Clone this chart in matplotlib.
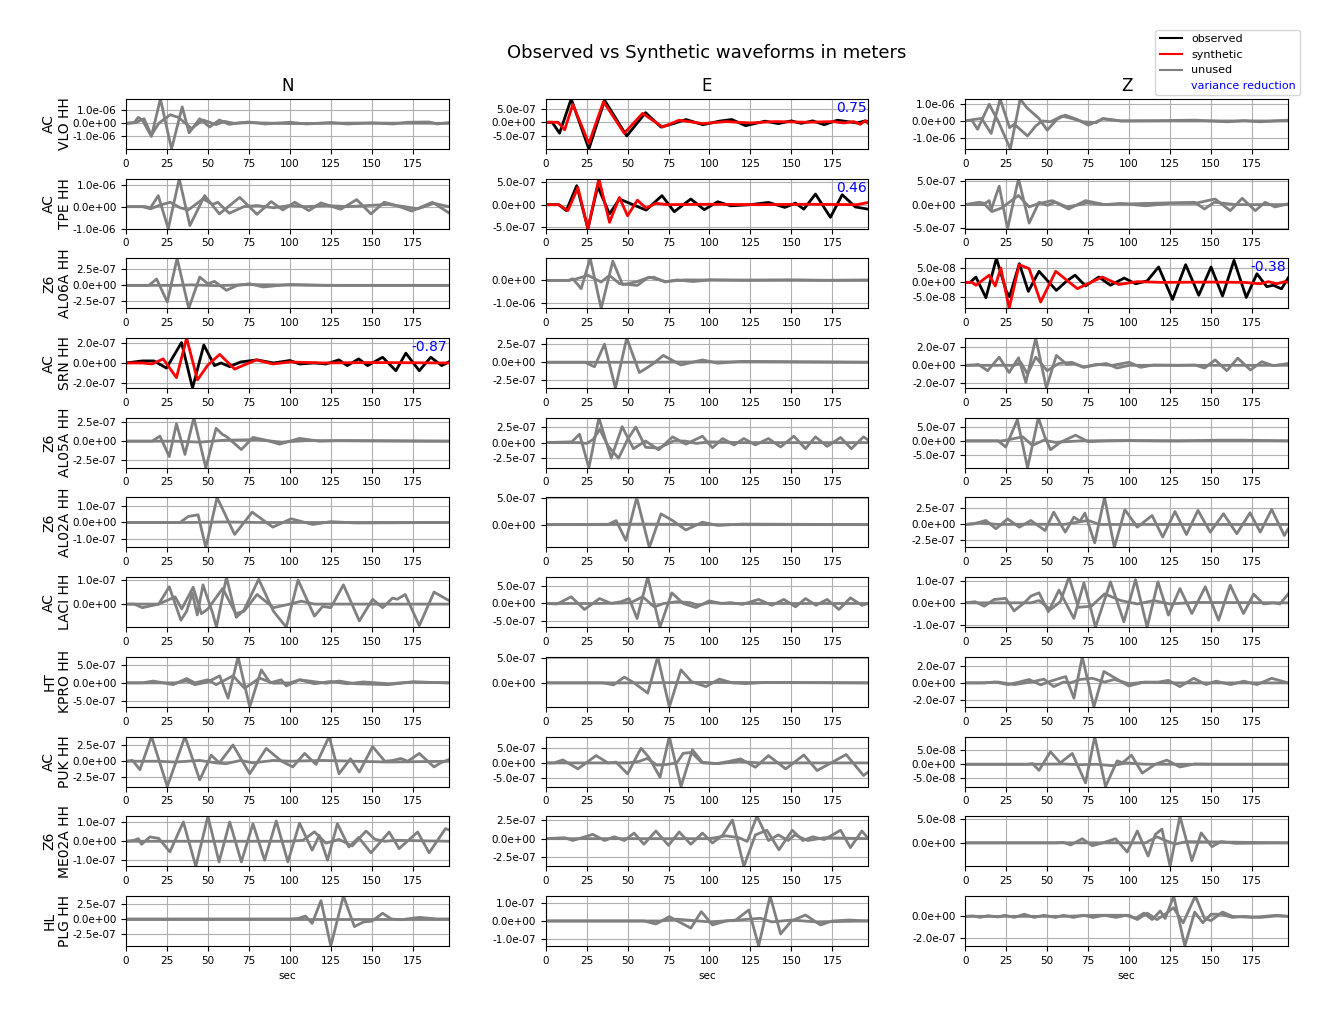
import matplotlib
matplotlib.use('Agg')
import matplotlib.pyplot as plt
from matplotlib.lines import Line2D
from matplotlib.ticker import MultipleLocator, FormatStrFormatter

NETWORKS = ['AC', 'AC', 'Z6', 'AC', 'Z6', 'Z6', 'AC', 'HT', 'AC', 'Z6', 'HL']
STATIONS = ['VLO', 'TPE', 'AL06A', 'SRN', 'AL05A', 'AL02A', 'LACI', 'KPRO', 'PUK', 'ME02A', 'PLG']
CHANNEL = 'HH'
COMPONENTS = ['N', 'E', 'Z']
# y tick step per panel (also the unit of the amplitude lists below)
YSTEP = [
    [1e-6, 5e-7, 1e-6],
    [1e-6, 5e-7, 5e-7],
    [2.5e-7, 1e-6, 5e-8],
    [2e-7, 2.5e-7, 2e-7],
    [2.5e-7, 2.5e-7, 5e-7],
    [1e-7, 5e-7, 2.5e-7],
    [1e-7, 5e-7, 1e-7],
    [5e-7, 5e-7, 2e-7],
    [2.5e-7, 5e-7, 5e-8],
    [1e-7, 2.5e-7, 5e-8],
    [2.5e-7, 1e-7, 2e-7],
]
VARIANCE_REDUCTION = {('VLO', 'E'): '0.75', ('TPE', 'E'): '0.46',
                      ('AL06A', 'Z'): '-0.38', ('SRN', 'N'): '-0.87'}
T_END = 197

# ---- traces: (time s, amplitude in units of YSTEP); A = observed, B = synthetic
VLO_N_A = [(0,0),(5,0.05),(7.5,0.45),(10,0.25),(15.5,-1.0),(21,1.85),(27.8,-1.95),(34.3,1.25),(38.5,-0.72),(45,0.35),(51,-0.28),(57,0.25),(63,-0.08),(70,0.05),(75,0.1),(85,-0.05),(100,0.08),(110,-0.05),(125,0.06),(135,-0.05),(150,0.03),(163,-0.05),(172,0.08),(185,0.1),(190,-0.05),(197,0.05)]
VLO_N_B = [(0,0),(6,0.05),(11,0.35),(15.5,-0.9),(20,0.0),(27,0.65),(32,0.45),(40,-0.4),(47,0.25),(55,-0.1),(60,0.15),(66,0.0),(75,0.05),(100,-0.02),(140,0.02),(197,0)]
VLO_E_A = [(0,0),(4,0.0),(8.5,-0.8),(15.6,1.7),(26.4,-1.95),(36,1.6),(49.5,-1.0),(61,0.7),(70.4,-0.35),(78,-0.1),(85.6,0.2),(96,-0.18),(106,0.08),(113.6,0.2),(122,-0.25),(134,0.08),(142,-0.1),(150,0.1),(156,-0.08),(163,0.1),(170,-0.18),(178,0.15),(184,0.05),(190,-0.05),(195,0.1),(197,0.05)]
VLO_E_B = [(0,0),(7.5,0.0),(11.6,-0.55),(16.6,1.3),(26.4,-1.55),(35.3,1.5),(48,-0.8),(59.2,0.65),(71.4,-0.35),(81.5,0.15),(96,-0.1),(110,0.05),(125,-0.05),(140,0.05),(160,0.0),(175,0.05),(182,-0.05),(188,0.05),(192,-0.15),(195,0.1),(197,-0.1)]
VLO_Z_A = [(0,0),(4,0.05),(7.5,-0.5),(14.6,1.0),(20,0.0),(27.5,-1.68),(33.5,1.32),(37.5,0.8),(45,0.15),(50,-0.55),(56,0.1),(61,0.35),(68,0.1),(75,-0.25),(84,0.12),(95,0.0),(120,0.02),(140,0.05),(160,-0.05),(170,0.02),(180,-0.05),(197,0.05)]
VLO_Z_B = [(0,0),(6,0.1),(10,0.15),(15.8,-0.75),(21.3,1.32),(27,-0.4),(30,-0.2),(38,-0.9),(43,-0.3),(47,0.0),(52,-0.05),(59,0.3),(65,0.15),(72,-0.05),(80,-0.1),(84,0.15),(95,0.0),(197,0)]

TPE_N_A = [(0,0),(12,0.0),(15,-0.05),(19.7,0.5),(25.8,-1.0),(32.5,1.27),(39,-0.86),(48,0.5),(57,-0.33),(69.4,0.42),(80,-0.35),(88.6,0.23),(95.7,-0.15),(103,0.2),(111.6,-0.18),(119,0.17),(131,-0.12),(140.8,0.32),(149.5,-0.33),(157.6,0.2),(165,0.05),(174.4,-0.2),(187,0.2),(197,-0.28)]
TPE_N_B = [(0,0),(10,0.0),(15,-0.1),(20,0.05),(27,0.2),(33,-0.05),(38,-0.15),(47,0.35),(53,0.1),(56,0.2),(63,-0.3),(72,0.0),(80,0.05),(90,-0.05),(100,0.05),(110,0.0),(122,0.05),(135,0.0),(160,0.1),(170,0.0),(178,-0.1),(188,0.15),(197,0.0)]
TPE_E_A = [(0,0),(8,0.0),(12.6,-0.26),(19,0.84),(25.8,-1.06),(31.8,0.81),(39,-0.41),(45,0.25),(50,0.1),(61.3,-0.24),(71,0.4),(78.5,-0.31),(88.6,0.25),(96.8,-0.22),(105,0.13),(113,-0.05),(125,0.0),(136,0.1),(146,-0.12),(152.5,0.07),(157.6,-0.2),(164.7,0.47),(173.8,-0.56),(181,0.44),(189,-0.1),(197,-0.2)]
TPE_E_B = [(0,0),(8,0.0),(13.6,-0.26),(19.7,0.76),(25.8,-1.06),(32.5,1.15),(39,-0.78),(45,0.32),(50,-0.49),(56,0.2),(61.3,-0.15),(67.3,0.06),(75,0.0),(100,0.02),(130,0.0),(160,0.02),(190,0.0),(197,0.1)]
TPE_Z_A = [(0,0),(12,0.0),(15.6,-0.26),(20.7,0.79),(25.8,-1.03),(32.5,1.11),(39,-0.79),(45,0.1),(50,-0.03),(55,0.1),(63,-0.19),(73.4,0.17),(85,0.0),(95,0.05),(110,-0.05),(125,0.05),(140,0.05),(152.5,0.24),(161.7,-0.26),(169,0.27),(177,-0.26),(183,0.1),(189,-0.1),(197,0.03)]
TPE_Z_B = [(0,0),(8.5,0.1),(12,0.05),(14.6,0.17),(16.2,-0.3),(22,-0.15),(32.5,0.39),(39,-0.1),(44,0.03),(53,0.17),(62,-0.1),(70,0.0),(74,0.07),(85,0.0),(110,0.05),(140,0.1),(146,-0.19),(152,0.1),(165,0.0),(197,0.0)]

AL06A_N_A = [(0,0),(14,0.0),(18.7,0.4),(25.2,-1.04),(31.2,1.69),(38.3,-1.44),(45,0.52),(50,0.1),(54,0.25),(61.3,-0.31),(68,0.0),(75.5,0.1),(83.6,-0.1),(100,0.06),(120,0.0),(197,0.0)]
AL06A_N_B = [(0,0),(30,0.0),(40,0.03),(55,-0.02),(75,0.05),(100,0.02),(130,0.0),(197,0.0)]
AL06A_E_A = [(0,0),(14,0.0),(16.6,0.07),(21.7,-0.36),(27.2,0.96),(33.9,-1.22),(41,0.84),(47,-0.19),(56,-0.05),(63.3,0.14),(73,-0.05),(85,0.02),(197,0)]
AL06A_E_B = [(0,0),(14,0.0),(18,0.05),(25.8,0.22),(33.9,-0.07),(39,0.22),(45,-0.14),(56,-0.22),(62,0.1),(66,0.14),(73,-0.07),(80,0.02),(90,-0.05),(100,0.02),(120,0.0),(150,0.02),(170,0.0),(197,0.02)]
AL06A_Z_A = [(0,0),(3,0.0),(6.5,0.37),(12.6,-1.07),(19,1.67),(25,-0.6),(27,-1.0),(33,1.3),(38.5,-0.63),(45,0.77),(55.6,-0.56),(62,0.1),(67,0.5),(73.4,-0.25),(81.5,0.37),(88.6,-0.2),(97,0.3),(104,-0.1),(111,0.1),(118,1.07),(126.5,-1.19),(134.5,1.23),(142.5,-0.9),(150,1.07),(157,-0.95),(164,1.53),(171.5,-1.05),(178,0.6),(184,-0.3),(188,-0.2),(193,-0.45),(197,0.3)]
AL06A_Z_B = [(0,0),(4,0.0),(6.5,-0.2),(14.6,0.5),(18.3,-0.25),(21.7,1.0),(26.8,-1.81),(32.9,1.23),(39,0.95),(46,-1.37),(55.2,0.77),(68.4,-0.44),(83.6,0.37),(93.7,-0.15),(105,0.05),(120,0.0),(150,0.02),(170,0.0),(180,-0.1),(185,0.05),(190,-0.1),(195,0.05),(197,0.0)]

SRN_N_A = [(0,0),(5,0.05),(10,0.1),(17,0.1),(24.7,-0.25),(33.9,1.0),(40.6,-1.23),(47.5,0.88),(54,-0.13),(58,0.0),(63.3,-0.18),(70,0.05),(80,0.15),(90,0.0),(100,0.12),(106,-0.05),(115,0.0),(122,-0.05),(130,0.15),(135,-0.13),(142,0.2),(147.5,-0.13),(156.6,0.28),(164.7,-0.38),(170.8,0.48),(179,-0.38),(186,0.28),(192.7,-0.13),(197,0.05)]
SRN_N_B = [(0,0),(10,0.0),(16,-0.05),(22.7,0.2),(30.8,-0.72),(37,1.22),(43.6,-0.83),(50,-0.1),(57.2,0.42),(66.3,-0.3),(79.5,0.15),(89.6,-0.05),(100,0.05),(120,0.0),(150,0.02),(197,0.0)]
SRN_E_A = [(0,0),(24,0.0),(29.8,-0.25),(35.9,1.0),(42.6,-1.43),(49.5,1.34),(57.2,-0.57),(62,-0.3),(65.3,-0.1),(71.8,0.38),(82.6,-0.15),(95.7,0.13),(105,-0.05),(120,0.05),(197,0.0)]
SRN_E_B = [(0,0),(50,0.0),(100,0.02),(197,0.0)]
SRN_Z_A = [(0,0),(5,0.02),(8,0.05),(13.6,-0.3),(20.7,0.45),(26.8,-0.4),(32.5,0.42),(37,-0.96),(43,1.51),(49.5,-1.26),(55.6,0.55),(62,0.05),(66,0.1),(72,-0.1),(80,0.05),(90,0.0),(100,0.17),(107,-0.11),(115,0.02),(130,0.0),(140,0.02),(146,-0.15),(152.5,0.3),(159.6,-0.3),(166.3,0.4),(174,-0.26),(181,0.2),(188,-0.02),(197,0.1)]
SRN_Z_B = [(0,0),(30,0.0),(34,0.15),(38,-0.49),(43,0.45),(50,-0.3),(57,0.1),(65,0.17),(72.4,-0.11),(80,0.02),(86,0.1),(92.7,-0.15),(100,0.0),(197,0.0)]

AL05A_N_A = [(0,0),(16,0.0),(20.7,0.27),(26.4,-0.82),(30.8,0.93),(36,-0.71),(41.4,1.25),(48.7,-1.42),(55,0.69),(59,0.35),(61,0.27),(70.4,-0.45),(77.5,0.2),(85.6,0.05),(93.7,-0.16),(105.9,0.15),(118,0.0),(130,0.03),(197,0.0)]
AL05A_N_B = [(0,0),(30,0.0),(45,-0.05),(60,0.05),(80,0.08),(95,-0.05),(110,0.03),(197,0.0)]
AL05A_E_A = [(0,0),(16,0.05),(20.7,0.54),(26.4,-1.61),(32.5,1.59),(40,-1.0),(46.7,1.02),(53.6,-0.39),(61,0.1),(69,-0.46),(77.5,0.37),(85.6,-0.1),(95.7,0.41),(101.8,-0.33),(108,0.26),(115,-0.15),(121,0.26),(128,-0.15),(136,0.26),(143.4,-0.28),(151.5,0.41),(158.6,-0.39),(164.7,0.37),(171.8,-0.24),(180,0.33),(186.6,-0.39),(194,0.37),(197,0.15)]
AL05A_E_B = [(0,0),(20,0.0),(25,-0.05),(29,0.2),(33,0.85),(38,-0.2),(44.5,-1.0),(50,0.2),(55,1.0),(61,-0.3),(69,-0.35),(78,0.1),(85,0.1),(92,-0.05),(100,0.05),(120,0.0),(197,0.0)]
AL05A_Z_A = [(0,0),(20,0.0),(24.7,-0.43),(31.8,1.48),(38,-1.88),(44.6,1.62),(48.5,0.3),(52,-0.62),(58,-0.1),(67.3,0.4),(75,-0.05),(85,0.0),(100,0.02),(120,0.0),(197,0.0)]
AL05A_Z_B = [(0,0),(22,0.0),(25,0.05),(35,0.29),(41,-0.31),(48,0.05),(55,-0.1),(62,-0.05),(70,0.0),(100,0.02),(130,0.0),(155,0.05),(170,0.05),(197,0.0)]

AL02A_N_A = [(0,0),(33,0.0),(38,0.36),(44,0.46),(48.7,-1.5),(55.6,1.5),(66.3,-0.72),(77,0.62),(89.6,-0.28),(100.8,0.22),(114,-0.12),(125,0.05),(140,-0.03),(197,0.0)]
AL02A_N_B = [(0,0),(40,0.0),(60,0.03),(80,0.0),(197,0.0)]
AL02A_E_A = [(0,0),(38,0.0),(43,0.15),(49,-0.59),(55.6,1.01),(63.3,-0.85),(70.4,0.4),(77.5,0.15),(85.6,-0.2),(95.7,0.09),(105,-0.03),(120,0.02),(197,0.0)]
AL02A_E_B = [(0,0),(60,0.02),(100,0.0),(197,0.0)]
AL02A_Z_A = [(0,0),(5,0.03),(12.6,0.25),(18.7,-0.27),(25.8,0.35),(33,-0.17),(40,0.25),(48.7,-0.38),(54,0.77),(61,-0.48),(66.3,0.46),(70,0.2),(73,0.71),(79,-1.15),(85,1.69),(91,-1.44),(97.4,0.92),(105,-0.17),(114,0.56),(120.5,-0.79),(128,0.81),(135,-0.63),(142,0.88),(149.5,-0.48),(157.6,0.67),(165.7,-0.58),(173.8,0.73),(180,-0.48),(187,0.94),(194.7,-0.69),(197,-0.3)]
AL02A_Z_B = [(0,0),(8.5,0.1),(20,0.0),(40,0.02),(60,0.0),(75,0.25),(82,0.0),(100,0.0),(197,0.0)]

LACI_N_A = [(0,0),(5,0.0),(10,-0.15),(20,0.0),(26.4,0.72),(33.5,-0.67),(37,-0.3),(40.5,0.45),(43.5,-0.45),(47,0.8),(53,-0.4),(55.2,-0.96),(61.3,1.12),(67.3,-0.55),(72,-0.25),(81,1.03),(90,-0.3),(97.8,-0.96),(105,1.0),(115,-0.5),(120,-0.1),(125,-0.15),(132.7,0.8),(142.4,-0.7),(150.5,0.2),(156.6,-0.15),(162.7,0.25),(165.5,0.2),(170.4,0.4),(179,-0.9),(188,0.5),(197,0.15)]
LACI_N_B = [(0,0),(20,0.0),(30,0.3),(34,-0.2),(41,0.7),(46,-0.4),(50,-0.2),(59,0.65),(67,-0.4),(72,-0.3),(80,0.4),(90,-0.15),(100,0.0),(107,0.12),(115,0.0),(197,0.0)]
LACI_E_A = [(0,0),(7,-0.03),(15.6,0.38),(23.7,-0.34),(32.9,0.28),(40,0.0),(46,0.1),(51,0.28),(55.8,-0.85),(62.3,1.49),(69.8,-1.34),(77,0.6),(84,0.0),(91.7,-0.23),(99.8,0.15),(107,0.0),(113,0.05),(120,-0.05),(130,0.23),(138,-0.1),(145.4,0.23),(152.5,-0.19),(158.6,0.28),(165,-0.1),(171.8,0.23),(179,-0.34),(186,0.32),(193,-0.1),(197,0.0)]
LACI_E_B = [(0,0),(30,0.0),(45,0.02),(52,0.05),(59.2,0.38),(66.3,-0.19),(72,0.0),(80,0.1),(88,0.05),(93,-0.1),(100,0.05),(110,0.0),(197,0.0)]
LACI_Z_A = [(0,0),(6,0.05),(11.6,-0.15),(17.6,0.15),(24.7,0.2),(29.8,-0.36),(36,0.0),(40,0.3),(45,0.45),(50.7,-0.4),(57.2,0.57),(66.3,-0.7),(72.4,0.9),(79.5,-1.09),(88.6,0.94),(96.8,-0.85),(103.9,1.04),(111,-1.09),(117.6,0.94),(124,-0.55),(131,0.64),(138.3,-0.48),(146.5,0.72),(154.6,-0.78),(161.7,0.79),(169.8,-0.48),(176,0.39),(182,-0.05),(188,0.0),(192,-0.05),(197,0.39)]
LACI_Z_B = [(0,0),(40,0.0),(45,0.1),(52,-0.3),(58,0.05),(63.3,1.15),(69,-0.2),(77,-0.15),(85,0.4),(95,0.1),(105,-0.05),(115,0.1),(125,-0.05),(140,0.02),(197,0.0)]

KPRO_N_A = [(0,0),(30,0.0),(37,0.1),(42,-0.1),(50,0.05),(57.2,0.39),(62.3,-0.85),(68.4,1.44),(75.5,-1.33),(82.6,0.72),(88,0.0),(94.7,0.17),(97.8,-0.17),(106,0.17),(115,-0.05),(125,0.08),(135,-0.05),(145,0.05),(160,-0.05),(175,0.05),(197,0.0)]
KPRO_N_B = [(0,0),(10,0.0),(16.6,0.1),(28.8,-0.1),(37,0.24),(42,0.0),(50,0.17),(55,-0.1),(65.3,0.39),(72.4,-0.3),(81.5,0.26),(90,-0.02),(100,0.0),(106,0.17),(122,-0.02),(130,0.1),(140,-0.05),(160,-0.1),(175,0.05),(197,0.0)]
KPRO_E_A = [(0,0),(35,0.0),(41.4,-0.08),(48,0.23),(54,0.0),(62.3,-0.41),(68.4,1.04),(75.5,-0.96),(82.6,0.52),(89,0.05),(97.8,-0.15),(106,0.15),(114,0.0),(122,-0.03),(135,0.02),(197,0.0)]
KPRO_E_B = [(0,0),(50,0.0),(100,0.02),(197,0.0)]
KPRO_Z_A = [(0,0),(12,0.0),(18,0.05),(26,-0.1),(33,0.05),(39,0.2),(46,-0.12),(52,0.1),(61.3,0.37),(66.3,-0.9),(71.4,1.53),(78.5,-1.41),(84.6,0.67),(91.7,0.27),(99.8,-0.18),(108,0.02),(118,0.05),(124,0.15),(131,-0.22),(139.4,0.27),(147,-0.1),(153,0.1),(162,-0.1),(170,0.1),(178,-0.1),(187,0.27),(197,0.0)]
KPRO_Z_B = [(0,0),(10,0.0),(20,0.05),(30,-0.1),(40,0.05),(48,0.22),(54,-0.22),(60,0.05),(64,0.0),(70,0.2),(77.5,0.27),(85,0.05),(91,0.2),(100,-0.05),(110,0.05),(125,0.0),(197,0.0)]

PUK_N_A = [(0,0),(4,0.05),(8.5,-0.52),(15.6,1.52),(25.2,-1.56),(36,1.52),(45,-1.15),(52,0.37),(57,-0.1),(65.3,1.0),(75.5,-0.77),(85.6,0.79),(95,0.0),(101.8,-0.35),(109,0.48),(116,-0.2),(124,1.52),(130,-0.77),(137,0.15),(142.4,-0.67),(150.5,0.9),(158,0.0),(163,0.05),(167.7,0.17),(172,0.0),(179,0.48),(188,-0.35),(192,-0.1),(197,0.1)]
PUK_N_B = [(0,0),(20,0.0),(30,-0.05),(45,0.05),(55,-0.1),(61,-0.15),(70,0.05),(77.5,-0.1),(90,0.05),(100,0.0),(120,0.05),(140,0.0),(160,-0.05),(197,0.0)]
PUK_E_A = [(0,0),(5,0.0),(10.5,0.2),(19.7,-0.4),(30.8,0.49),(38,0.0),(43,0.05),(50,-0.73),(58.2,0.98),(63,0.38),(69.8,-0.96),(75.5,1.76),(82.6,-1.58),(89.6,0.87),(96,0.0),(104,-0.05),(112,0.1),(119,0.27),(128,-0.29),(136,0.49),(146.5,-0.4),(157.6,0.53),(165.7,-0.51),(175,0.05),(183.4,0.56),(194,-0.84),(197,-0.6)]
PUK_E_B = [(0,0),(50,0.0),(57,0.1),(62,0.3),(68,-0.15),(74,-0.1),(80,0.0),(84,0.64),(89,0.7),(95,0.05),(105,-0.05),(118,0.1),(130,0.0),(197,0.0)]
PUK_Z_A = [(0,0),(38,0.0),(41,0.05),(45,-0.43),(52,0.88),(58,0.1),(65.3,0.76),(73.4,-1.31),(79,1.95),(85.6,-1.57),(92.7,0.24),(96,0.1),(101.4,0.64),(108,-0.62),(116,0.0),(123,0.29),(131,-0.19),(140,0.02),(155,0.0),(197,0.0)]
PUK_Z_B = [(0,0),(40,0.0),(60,0.02),(70,-0.03),(80,0.0),(90,-0.1),(98,0.1),(110,0.0),(197,0.0)]

ME02A_N_A = [(0,0),(5,0.05),(7.5,0.14),(9.5,-0.16),(14.6,0.23),(20,0.15),(26.8,-0.56),(35,1.02),(42.6,-1.32),(50,1.32),(56.8,-1.09),(63.3,1.02),(70.4,-1.09),(77.5,0.93),(84.6,-1.0),(91.7,1.07),(98.8,-1.09),(105.9,0.96),(113.6,-0.47),(118,0.3),(123,-1.0),(129,0.93),(136,-0.3),(142,0.2),(149.5,-0.61),(160.6,0.49),(166.7,-0.39),(178,0.49),(185,-0.61),(195,0.67),(197,0.6)]
ME02A_N_B = [(0,0),(100,0.0),(108,0.05),(115,0.5),(122,-0.1),(130,0.1),(138,-0.25),(146.5,0.54),(152,0.1),(158,0.0),(165,0.05),(197,0.0)]
ME02A_E_A = [(0,0),(11.6,0.05),(16.6,-0.1),(28.8,0.23),(36,-0.1),(42,0.1),(48,-0.1),(54,0.3),(60,-0.3),(67.3,0.41),(75,-0.36),(81.5,0.36),(88.6,-0.3),(95.7,0.3),(101.8,-0.23),(108,0.18),(114,1.0),(121,-1.48),(128,0.2),(135,0.45),(142.4,-0.6),(150.5,0.45),(157,-0.1),(163,0.1),(170,-0.05),(180,0.45),(186,-0.48),(193,0.41),(197,0.0)]
ME02A_E_B = [(0,0),(100,0.0),(110,0.15),(118,0.05),(123,-0.15),(129,1.2),(136,-0.1),(142,0.2),(148,-0.1),(152,0.2),(160,-0.1),(170,0.05),(197,0.0)]
ME02A_Z_A = [(0,0),(55,0.0),(60,0.02),(64.3,-0.09),(71.4,0.17),(77.5,-0.12),(84,0.0),(91.7,0.17),(98.8,-0.38),(105,0.49),(111.6,-0.55),(116,0.35),(120,0.57),(125,-0.97),(131,1.1),(138.3,-0.74),(144,0.41),(150.5,-0.16),(156,0.05),(165,-0.02),(197,0.0)]
ME02A_Z_B = [(0,0),(110,0.0),(117,0.25),(122,0.1),(128,-0.05),(135,0.05),(197,0.0)]

PLG_N_A = [(0,0),(100,0.0),(105,0.03),(109.5,0.2),(113.6,-0.3),(119,1.25),(125,-1.84),(132.7,1.57),(139.4,-0.52),(145,-0.2),(150,-0.15),(156.6,0.39),(162,0.0),(168,-0.05),(179,0.11),(190,0.0),(197,0.0)]
PLG_N_B = [(0,0),(197,0.0)]
PLG_E_A = [(0,0),(60,0.0),(67.3,-0.17),(75.5,0.24),(88.6,-0.4),(95,0.52),(101.8,-0.22),(110,0.0),(116,0.05),(124,0.61),(130,-1.39),(137,1.39),(143.4,-0.72),(150,0.0),(158.6,0.33),(167.7,-0.22),(175,0.0),(185,0.05),(197,0.0)]
PLG_E_B = [(0,0),(70,0.0),(80,0.1),(100,-0.05),(118,0.05),(131,0.15),(138,-0.05),(150,0.05),(165,-0.05),(197,0.0)]
PLG_Z_A = [(0,0),(5,0.02),(9,-0.05),(14,0.03),(20,-0.03),(24,0.05),(30,-0.05),(36,0.1),(42,-0.05),(48,0.05),(55,-0.05),(60,0.05),(66,-0.05),(72,0.05),(78,-0.05),(85,0.05),(92,-0.05),(98,0.05),(104,-0.1),(109,0.15),(114,-0.15),(119,0.25),(122,-0.1),(127.2,0.95),(134,-1.38),(140,0.2),(145,-0.3),(150,0.1),(156,0.1),(163,-0.05),(170,0.0),(180,-0.05),(190,0.02),(197,0)]
PLG_Z_B = [(0,0),(60,0.0),(80,0.05),(100,0.05),(105,-0.15),(111,0.15),(117,-0.15),(122,0.1),(127,0.4),(133,-0.3),(140.4,0.95),(146,-0.1),(150,-0.2),(157,0.2),(163,0.0),(175,-0.05),(190,0.05),(197,0.0)]

TRACES = {
    ('VLO', 'N'): (VLO_N_A, VLO_N_B), ('VLO', 'E'): (VLO_E_A, VLO_E_B), ('VLO', 'Z'): (VLO_Z_A, VLO_Z_B),
    ('TPE', 'N'): (TPE_N_A, TPE_N_B), ('TPE', 'E'): (TPE_E_A, TPE_E_B), ('TPE', 'Z'): (TPE_Z_A, TPE_Z_B),
    ('AL06A', 'N'): (AL06A_N_A, AL06A_N_B), ('AL06A', 'E'): (AL06A_E_A, AL06A_E_B), ('AL06A', 'Z'): (AL06A_Z_A, AL06A_Z_B),
    ('SRN', 'N'): (SRN_N_A, SRN_N_B), ('SRN', 'E'): (SRN_E_A, SRN_E_B), ('SRN', 'Z'): (SRN_Z_A, SRN_Z_B),
    ('AL05A', 'N'): (AL05A_N_A, AL05A_N_B), ('AL05A', 'E'): (AL05A_E_A, AL05A_E_B), ('AL05A', 'Z'): (AL05A_Z_A, AL05A_Z_B),
    ('AL02A', 'N'): (AL02A_N_A, AL02A_N_B), ('AL02A', 'E'): (AL02A_E_A, AL02A_E_B), ('AL02A', 'Z'): (AL02A_Z_A, AL02A_Z_B),
    ('LACI', 'N'): (LACI_N_A, LACI_N_B), ('LACI', 'E'): (LACI_E_A, LACI_E_B), ('LACI', 'Z'): (LACI_Z_A, LACI_Z_B),
    ('KPRO', 'N'): (KPRO_N_A, KPRO_N_B), ('KPRO', 'E'): (KPRO_E_A, KPRO_E_B), ('KPRO', 'Z'): (KPRO_Z_A, KPRO_Z_B),
    ('PUK', 'N'): (PUK_N_A, PUK_N_B), ('PUK', 'E'): (PUK_E_A, PUK_E_B), ('PUK', 'Z'): (PUK_Z_A, PUK_Z_B),
    ('ME02A', 'N'): (ME02A_N_A, ME02A_N_B), ('ME02A', 'E'): (ME02A_E_A, ME02A_E_B), ('ME02A', 'Z'): (ME02A_Z_A, ME02A_Z_B),
    ('PLG', 'N'): (PLG_N_A, PLG_N_B), ('PLG', 'E'): (PLG_E_A, PLG_E_B), ('PLG', 'Z'): (PLG_Z_A, PLG_Z_B),
}

fig, axes = plt.subplots(len(STATIONS), len(COMPONENTS), figsize=(13.29, 10.14), dpi=100)
fig.subplots_adjust(left=0.0948, right=0.9692, top=0.9024, bottom=0.0671, wspace=0.300, hspace=0.594)

for i, sta in enumerate(STATIONS):
    for j, comp in enumerate(COMPONENTS):
        ax = axes[i, j]
        obs, syn = TRACES[(sta, comp)]
        step = YSTEP[i][j]
        used = (sta, comp) in VARIANCE_REDUCTION
        ax.plot([p[0] for p in obs], [p[1] * step for p in obs],
                color='black' if used else 'gray', lw=2, solid_joinstyle='round')
        ax.plot([p[0] for p in syn], [p[1] * step for p in syn],
                color='red' if used else 'gray', lw=2, solid_joinstyle='round')
        ax.margins(x=0, y=0)
        ax.set_xlim(0, T_END)
        ax.xaxis.set_major_locator(MultipleLocator(25))
        ax.yaxis.set_major_locator(MultipleLocator(step))
        ax.yaxis.set_major_formatter(FormatStrFormatter('%.1e'))
        ax.tick_params(labelsize=7.5)
        ax.grid(True)
        if used:
            ax.text(0.995, 0.96, VARIANCE_REDUCTION[(sta, comp)], color='blue',
                    fontsize=10, ha='right', va='top', transform=ax.transAxes)
        if j == 0:
            ax.set_ylabel(f'{NETWORKS[i]}\n{sta} {CHANNEL}', fontsize=10)
            ax.yaxis.set_label_coords(-0.166, 0.5)
        if i == 0:
            ax.set_title(comp, fontsize=12)
        if i == len(STATIONS) - 1:
            ax.set_xlabel('sec', fontsize=7.5)

fig.text(0.532, 0.9477, 'Observed vs Synthetic waveforms in meters',
         ha='center', va='center', fontsize=13)

handles = [Line2D([], [], color='black'), Line2D([], [], color='red'),
           Line2D([], [], color='gray'), Line2D([], [], color='none')]
leg = fig.legend(handles, ['observed', 'synthetic', 'unused', 'variance reduction'],
                 loc='upper right', bbox_to_anchor=(0.9825, 0.976), fontsize=8)
leg.get_texts()[3].set_color('blue')

fig.savefig('out.png', dpi=100)
